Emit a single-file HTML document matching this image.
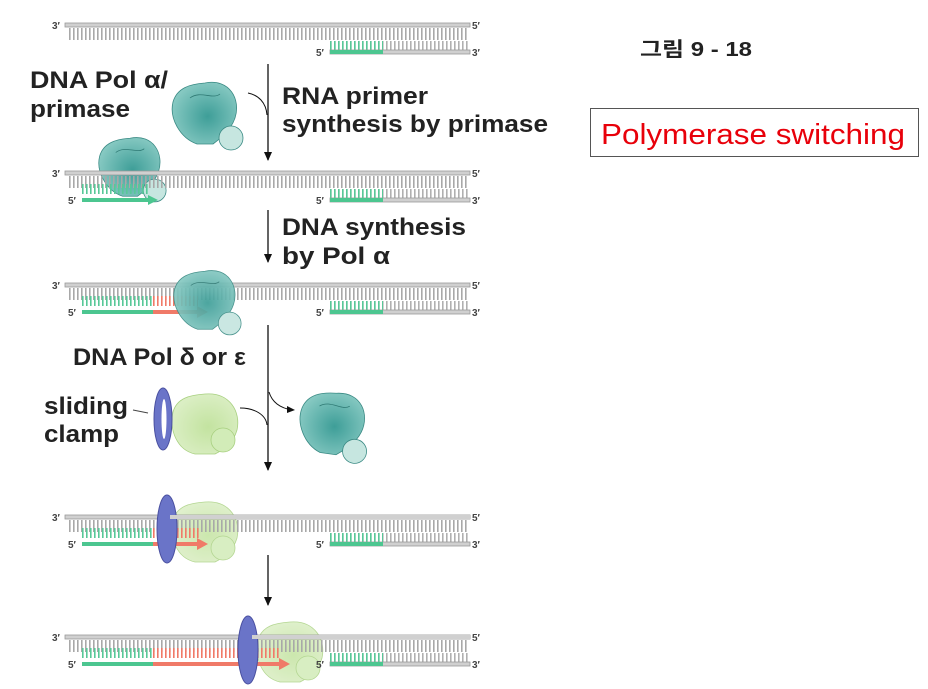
<!DOCTYPE html>
<html><head><meta charset="utf-8"><style>
html,body{margin:0;padding:0;background:#fff;width:928px;height:689px;overflow:hidden}
svg{display:block}
.t{font-family:"Liberation Sans","Noto Sans CJK KR",sans-serif;font-weight:bold;fill:#222}
.p{font-family:"Liberation Sans",sans-serif;font-weight:bold;font-size:10px;fill:#444}
</style></head><body>
<svg width="928" height="689" viewBox="0 0 928 689" xmlns="http://www.w3.org/2000/svg">
<defs>
<g id="dna">
  <line x1="69" y1="9" x2="468" y2="9" stroke="#a8a8a8" stroke-width="12" stroke-dasharray="1.6 2.4"/>
  <line x1="330" y1="21" x2="468" y2="21" stroke="#b0b0b0" stroke-width="10" stroke-dasharray="1.6 2.4"/>
  <line x1="330" y1="21" x2="383" y2="21" stroke="#58c898" stroke-width="10" stroke-dasharray="1.6 2.4"/>
  <rect x="65" y="-2" width="405" height="4" fill="#d0d0d0" stroke="#9a9a9a" stroke-width="0.8"/>
  <rect x="330" y="25" width="140" height="4" fill="#d0d0d0" stroke="#9a9a9a" stroke-width="0.8"/>
  <rect x="330" y="25" width="53" height="4" fill="#4cc690"/>
  <text class="p" x="52" y="4">3′</text><text class="p" x="472" y="4">5′</text>
  <text class="p" x="316" y="31">5′</text><text class="p" x="472" y="31">3′</text>
</g>
<g id="lstrand">
  <text class="p" x="68" y="31">5′</text>
</g>
<radialGradient id="teal" cx="0.55" cy="0.55" r="0.6"><stop offset="0" stop-color="#3e9e98"/><stop offset="1" stop-color="#8acbc4"/></radialGradient>
<radialGradient id="lg" cx="0.55" cy="0.55" r="0.6"><stop offset="0" stop-color="#c3e3a0"/><stop offset="1" stop-color="#dcefc6"/></radialGradient>
<g id="tealprot">
  <path d="M0,-25 C25,-30 36,-8 30,10 C26,22 16,30 8,36 L-8,36 C-25,30 -36,10 -32,-6 C-28,-20 -15,-24 0,-25Z" fill="url(#teal)" stroke="#3a8a84" stroke-width="0.8"/>
  <path d="M-15,-10 C-5,-18 8,-8 15,-14" fill="none" stroke="#2f7a74" stroke-width="0.8"/>
  <ellipse cx="26" cy="30" rx="12" ry="12" fill="#c6e6e0" stroke="#3a8a84" stroke-width="0.8"/>
</g>
<g id="greenprot">
  <path d="M0,-26 C25,-28 36,-8 32,10 C28,24 18,30 10,34 L-10,34 C-28,30 -36,10 -32,-8 C-28,-22 -15,-25 0,-26Z" fill="url(#lg)" stroke="#a8d080" stroke-width="0.8"/>
  <ellipse cx="18" cy="20" rx="12" ry="12" fill="#d2ecb8" stroke="#a8d080" stroke-width="0.8"/>
</g>
</defs>

<!-- Row 1 -->
<use href="#dna" transform="translate(0,25)"/>

<line x1="268" y1="64" x2="268" y2="160" stroke="#111" stroke-width="1.3"/>
<path d="M264,152 L268,161 L272,152Z" fill="#111"/>
<path d="M248,93 C258,95 266,102 267,115" fill="none" stroke="#111" stroke-width="1"/>
<use href="#tealprot" transform="translate(205,108)"/>

<!-- Row 2 -->
<use href="#tealprot" transform="translate(130,162) scale(0.95)"/>
<use href="#dna" transform="translate(0,173)"/>
<use href="#lstrand" transform="translate(0,173)"/>
<line x1="82" y1="189" x2="150" y2="189" stroke="#58c898" stroke-width="10" stroke-dasharray="1.6 2.4"/>
<rect x="82" y="198" width="68" height="4" fill="#4cc690"/>
<path d="M148,195 L158,200 L148,205Z" fill="#4cc690"/>

<line x1="268" y1="210" x2="268" y2="262" stroke="#111" stroke-width="1.3"/>
<path d="M264,254 L268,263 L272,254Z" fill="#111"/>

<!-- Row 3 -->
<use href="#dna" transform="translate(0,285)"/>
<use href="#lstrand" transform="translate(0,285)"/>
<line x1="82" y1="301" x2="153" y2="301" stroke="#58c898" stroke-width="10" stroke-dasharray="1.6 2.4"/>
<line x1="153" y1="301" x2="198" y2="301" stroke="#f07a68" stroke-width="10" stroke-dasharray="1.6 2.4"/>
<rect x="82" y="310" width="71" height="4" fill="#4cc690"/>
<rect x="153" y="310" width="46" height="4" fill="#f07a68"/>
<path d="M197,306 L208,312 L197,318Z" fill="#f07a68"/>
<use href="#tealprot" transform="translate(205,295) scale(0.95)" opacity="0.92"/>

<line x1="268" y1="325" x2="268" y2="470" stroke="#111" stroke-width="1.3"/>
<path d="M264,462 L268,471 L272,462Z" fill="#111"/>
<path d="M240,408 C255,408 266,415 267,425" fill="none" stroke="#111" stroke-width="1"/>
<path d="M269,392 C272,402 280,408 292,410" fill="none" stroke="#111" stroke-width="1"/>
<path d="M287,406 L295,410 L287,413Z" fill="#111"/>
<use href="#greenprot" transform="translate(205,420)"/>
<ellipse cx="163" cy="419" rx="9" ry="31" fill="#6a74c8" stroke="#4a50a0" stroke-width="1"/>
<ellipse cx="164" cy="419" rx="2.5" ry="20" fill="#fff"/>
<line x1="133" y1="410" x2="148" y2="413" stroke="#444" stroke-width="1"/>
<use href="#tealprot" transform="translate(333,418) rotate(8)"/>

<!-- Row 4 -->
<use href="#greenprot" transform="translate(205,528)" opacity="0.85"/>
<use href="#dna" transform="translate(0,517)"/>
<use href="#lstrand" transform="translate(0,517)"/>
<line x1="82" y1="533" x2="153" y2="533" stroke="#58c898" stroke-width="10" stroke-dasharray="1.6 2.4"/>
<line x1="153" y1="533" x2="200" y2="533" stroke="#f07a68" stroke-width="10" stroke-dasharray="1.6 2.4"/>
<rect x="82" y="542" width="71" height="4" fill="#4cc690"/>
<rect x="153" y="542" width="46" height="4" fill="#f07a68"/>
<path d="M197,538 L208,544 L197,550Z" fill="#f07a68"/>
<ellipse cx="167" cy="529" rx="10" ry="34" fill="#6a74c8" stroke="#4a50a0" stroke-width="1"/>
<rect x="170" y="515" width="300" height="4" fill="#d0d0d0"/>

<line x1="268" y1="555" x2="268" y2="605" stroke="#111" stroke-width="1.3"/>
<path d="M264,597 L268,606 L272,597Z" fill="#111"/>

<!-- Row 5 -->
<use href="#greenprot" transform="translate(290,648)" opacity="0.85"/>
<use href="#dna" transform="translate(0,637)"/>
<use href="#lstrand" transform="translate(0,637)"/>
<line x1="82" y1="653" x2="153" y2="653" stroke="#58c898" stroke-width="10" stroke-dasharray="1.6 2.4"/>
<line x1="153" y1="653" x2="280" y2="653" stroke="#f07a68" stroke-width="10" stroke-dasharray="1.6 2.4"/>
<rect x="82" y="662" width="71" height="4" fill="#4cc690"/>
<rect x="153" y="662" width="127" height="4" fill="#f07a68"/>
<path d="M279,658 L290,664 L279,670Z" fill="#f07a68"/>
<ellipse cx="248" cy="650" rx="10" ry="34" fill="#6a74c8" stroke="#4a50a0" stroke-width="1"/>
<rect x="252" y="635" width="218" height="4" fill="#d0d0d0"/>

<!-- Labels -->
<text class="t" x="30" y="88" font-size="24" textLength="138" lengthAdjust="spacingAndGlyphs">DNA Pol α/</text>
<text class="t" x="30" y="117" font-size="24" textLength="100" lengthAdjust="spacingAndGlyphs">primase</text>
<text class="t" x="282" y="104" font-size="24" textLength="146" lengthAdjust="spacingAndGlyphs">RNA primer</text>
<text class="t" x="282" y="132" font-size="24" textLength="266" lengthAdjust="spacingAndGlyphs">synthesis by primase</text>
<text class="t" x="282" y="235" font-size="24" textLength="184" lengthAdjust="spacingAndGlyphs">DNA synthesis</text>
<text class="t" x="282" y="264" font-size="24" textLength="108" lengthAdjust="spacingAndGlyphs">by Pol α</text>
<text class="t" x="73" y="365" font-size="24" textLength="173" lengthAdjust="spacingAndGlyphs">DNA Pol δ or ε</text>
<text class="t" x="44" y="414" font-size="24" textLength="84" lengthAdjust="spacingAndGlyphs">sliding</text>
<text class="t" x="44" y="442" font-size="24" textLength="75" lengthAdjust="spacingAndGlyphs">clamp</text>

<text class="t" x="640" y="56" font-size="20" fill="#111" textLength="112" lengthAdjust="spacingAndGlyphs">그림 9 - 18</text>
<rect x="590.5" y="108.5" width="328" height="48" fill="#fff" stroke="#555" stroke-width="1"/>
<text x="601" y="144" font-family="Liberation Sans,sans-serif" font-size="29" fill="#e8000a" textLength="304" lengthAdjust="spacingAndGlyphs">Polymerase switching</text>
</svg>
</body></html>
